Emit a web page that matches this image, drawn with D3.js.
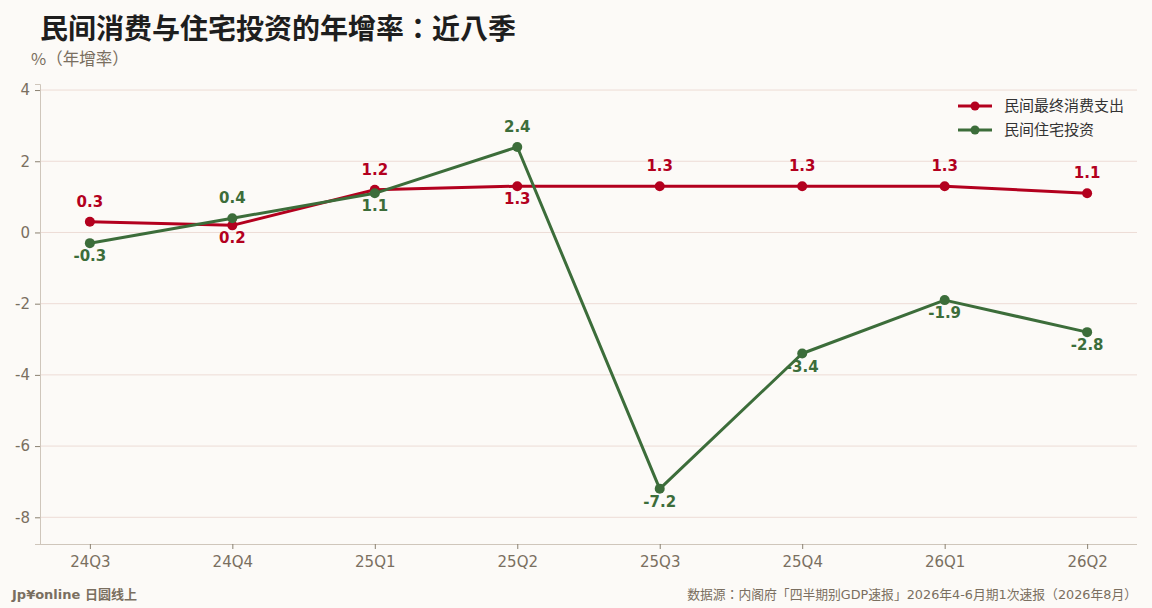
<!DOCTYPE html>
<html>
<head>
<meta charset="utf-8">
<script src="https://cdn.jsdelivr.net/npm/d3@7/dist/d3.min.js"></script>
<style>
  body { margin: 0; background: #fcfaf7; }
  svg { display: block; font-family: "DejaVu Sans", "Noto Sans CJK JP", sans-serif; }
</style>
</head>
<body>
<script>
// quarters and yoy growth (%)
var quarters = ["24Q3", "24Q4", "25Q1", "25Q2", "25Q3", "25Q4", "26Q1", "26Q2"];
var consumption = [0.3, 0.2, 1.2, 1.3, 1.3, 1.3, 1.3, 1.1];
var housing = [-0.3, 0.4, 1.1, 2.4, -7.2, -3.4, -1.9, -2.8];
var yTicks = [-8, -6, -4, -2, 0, 2, 4];
// label above (true) or below (false)
var consAbove = [true, false, true, false, true, true, true, true];
var housAbove = [false, true, false, true, false, false, false, false];

var width = 1152, height = 608;
var plotLeft = 40, plotRight = 1137, plotTop = 84, plotBottom = 544;
var red = "#b3001e", green = "#3c6d3a", grey = "#7a6f60";
var cjk = "Noto Sans CJK JP";

var svg = d3.select("body").append("svg").attr("width", width).attr("height", height);
svg.append("rect").attr("width", width).attr("height", height).attr("fill", "#fcfaf7");

var x = d3.scalePoint().domain(quarters).range([plotLeft, plotRight]).padding(0.35);
var y = d3.scaleLinear().domain([-8.75, 4.17]).range([plotBottom, plotTop]);

// gridlines
svg.append("g").selectAll("line").data(yTicks).join("line")
  .attr("x1", plotLeft).attr("x2", plotRight)
  .attr("y1", d => y(d)).attr("y2", d => y(d))
  .attr("stroke", "#eddcd6").attr("stroke-width", 1);

// axes
var yAxis = svg.append("g").attr("transform", "translate(" + plotLeft + ",0)")
  .call(d3.axisLeft(y).tickValues(yTicks).tickFormat(d => String(d)).tickSize(5).tickPadding(5));
var xAxis = svg.append("g").attr("transform", "translate(0," + plotBottom + ")")
  .call(d3.axisBottom(x).tickSize(5).tickPadding(7));
[yAxis, xAxis].forEach(function(g) {
  g.select(".domain").attr("stroke", "#cfc6bb");
  g.selectAll(".tick line").attr("stroke", "#8a8070");
  g.selectAll(".tick text").attr("fill", grey).style("font-size", "15px")
    .style("font-family", "DejaVu Sans");
});
xAxis.select(".domain").attr("d", "M" + plotLeft + ",0.5H" + plotRight);

function drawSeries(vals, color, above) {
  var line = d3.line().x((d, i) => x(quarters[i])).y(d => y(d));
  svg.append("path").datum(vals)
    .attr("fill", "none").attr("stroke", color).attr("stroke-width", 3)
    .attr("stroke-linejoin", "round").attr("d", line);
  svg.append("g").selectAll("circle").data(vals).join("circle")
    .attr("cx", (d, i) => x(quarters[i])).attr("cy", d => y(d)).attr("r", 5)
    .attr("fill", color);
  svg.append("g").selectAll("text").data(vals).join("text")
    .attr("x", (d, i) => x(quarters[i]))
    .attr("y", (d, i) => above[i] ? y(d) - 15 : y(d) + 18)
    .attr("text-anchor", "middle")
    .attr("fill", color).style("font-size", "15px").style("font-weight", "bold")
    .text(d => d.toFixed(1));
}
drawSeries(consumption, red, consAbove);
drawSeries(housing, green, housAbove);

// legend
var legend = [["民间最终消费支出", red], ["民间住宅投资", green]];
var lg = svg.append("g").selectAll("g").data(legend).join("g")
  .attr("transform", (d, i) => "translate(958," + (106 + i * 24) + ")");
lg.append("line").attr("x1", 0).attr("x2", 34).attr("stroke", d => d[1]).attr("stroke-width", 3);
lg.append("circle").attr("cx", 17).attr("r", 4.5).attr("fill", d => d[1]);
lg.append("text").attr("x", 46).attr("dy", "0.35em").attr("fill", "#333")
  .style("font-size", "15px").style("font-family", cjk)
  .text(d => d[0]);

// titles
svg.append("text").attr("x", 40).attr("y", 39).attr("fill", "#1e1e1e")
  .style("font-size", "28px").style("font-weight", "bold").style("font-family", cjk)
  .text("民间消费与住宅投资的年增率：近八季");
svg.append("text").attr("x", 31).attr("y", 65).attr("fill", grey)
  .style("font-size", "16.5px").style("font-family", cjk)
  .text("%（年增率）");

// footer
svg.append("text").attr("x", 12).attr("y", 599).attr("fill", grey)
  .style("font-size", "13px").style("font-weight", "bold")
  .text("Jp¥online 日圆线上");
svg.append("text").attr("x", 1137).attr("y", 599).attr("text-anchor", "end").attr("fill", grey)
  .style("font-size", "12.8px").style("font-family", "DejaVu Sans, " + cjk)
  .text("数据源：内阁府「四半期别GDP速报」2026年4-6月期1次速报（2026年8月）");
</script>
</body>
</html>
